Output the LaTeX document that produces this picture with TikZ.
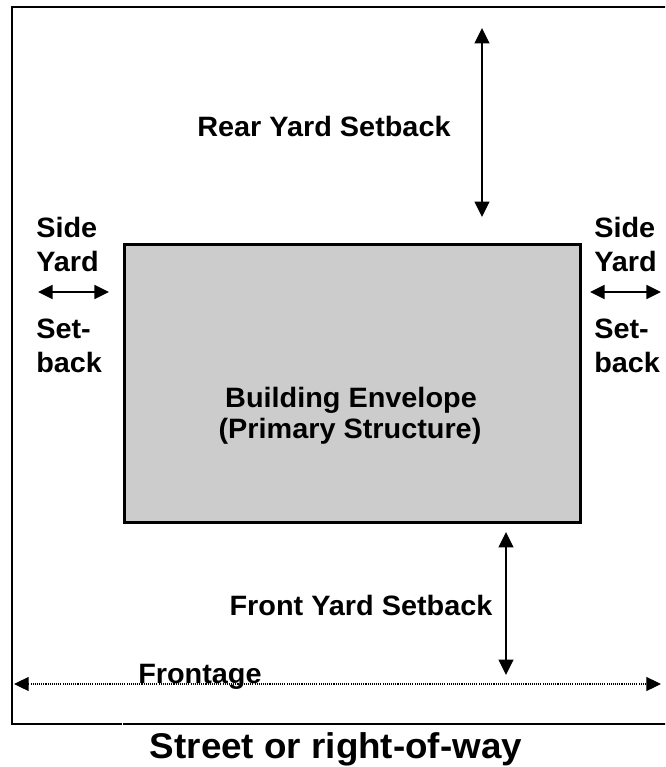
\documentclass[tikz,border=0pt]{standalone}
\usepackage{fontspec}
\setmainfont{Liberation Sans}[FakeStretch=1.03]
\usetikzlibrary{arrows.meta}
\definecolor{bldg}{HTML}{CCCCCC}
\tikzset{
  frameline/.style={line width=1.9pt, line cap=rect},
  lbl/.style={inner sep=0pt, font=\fontsize{21pt}{25pt}\selectfont\bfseries},
  big/.style={inner sep=0pt, font=\fontsize{26.8pt}{32pt}\selectfont\bfseries},
  dim/.style={line width=1.3pt, {Triangle[length=11.5pt,width=11pt]}-{Triangle[length=11.5pt,width=11pt]}},
  sdim/.style={line width=1.3pt, {Triangle[length=11pt,width=10.5pt]}-{Triangle[length=11pt,width=10.5pt]}},
  fdim/.style={line width=0.8pt, dash pattern=on 0.8pt off 0.8pt, {Triangle[length=11pt,width=10.5pt]}-{Triangle[length=11pt,width=10.5pt]}}
}
\begin{document}
\begin{tikzpicture}[x=0.75pt,y=-0.75pt]
\useasboundingbox (0,0) rectangle (665,767);
\clip (0,0) rectangle (665,767);
% lot frame
\draw[frameline] (700,7) -- (12,7) -- (12,724) -- (121,724);
\draw[frameline] (124,724) -- (700,724);
% building
\node[draw, line width=1.9pt, fill=bldg, minimum width=456*0.75pt, minimum height=278*0.75pt, inner sep=0pt, anchor=north west] (bldg) at (123,243) {};
\node[lbl, anchor=base] (b1) at (351,407) {Building Envelope};
\node[lbl, anchor=base] (b2) at (350,438) {(Primary Structure)};
% rear
\coordinate (rt) at (482,28);
\coordinate (rb) at (482,217);
\draw[dim] (rt) -- (rb);
\node[lbl, anchor=base] (rear) at (324,136) {Rear Yard Setback};
% front
\coordinate (ft) at (506,532);
\coordinate (fb) at (506,675);
\draw[dim] (ft) -- (fb);
\node[lbl, anchor=base] (front) at (361,615) {Front Yard Setback};
% side left
\node[lbl, anchor=base west] (sl1) at (36,237) {Side};
\node[lbl, anchor=base west] (sl2) at (36,271) {Yard};
\node[lbl, anchor=base west] (sl3) at (36,338) {Set-};
\node[lbl, anchor=base west] (sl4) at (36,372) {back};
\coordinate (sla) at (38,292);
\coordinate (slb) at (109,292);
\draw[sdim] (sla) -- (slb);
% side right
\node[lbl, anchor=base west] (sr1) at (594,237) {Side};
\node[lbl, anchor=base west] (sr2) at (594,271) {Yard};
\node[lbl, anchor=base west] (sr3) at (594,338) {Set-};
\node[lbl, anchor=base west] (sr4) at (594,372) {back};
\coordinate (sra) at (590,292);
\coordinate (srb) at (661,292);
\draw[sdim] (sra) -- (srb);
% frontage
\coordinate (fa) at (14,684);
\coordinate (fz) at (661,684);
\draw[fdim] (fa) -- (fz);
\node[lbl, anchor=base west] (frontage) at (138,683) {Frontage};
% street
\node[big, anchor=base] (street) at (336,758) {Street or right-of-way};
\end{tikzpicture}
\end{document}
